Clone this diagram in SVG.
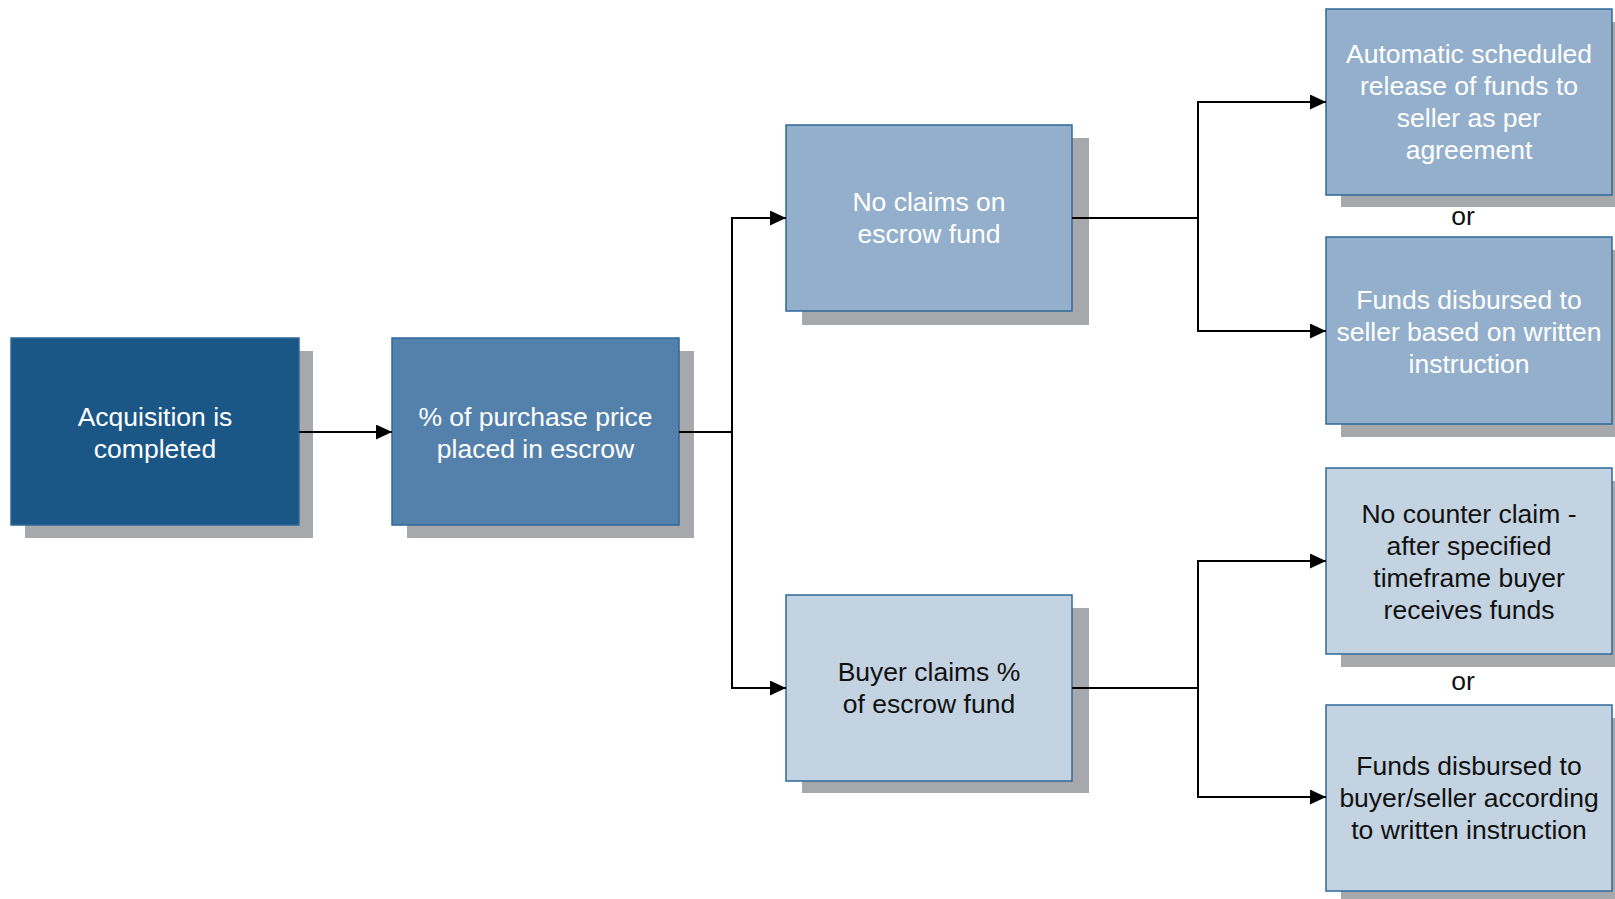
<svg xmlns="http://www.w3.org/2000/svg" width="1615" height="899" viewBox="0 0 1615 899">
<style>
.shadow{fill:#a7a8ab}
.box{stroke:#2f6899;stroke-width:1.5}
.b1{fill:#1a5787}
.b2{fill:#5481ab}
.b3{fill:#93afcb}
.b4{fill:#c3d3e1}
text{font-family:"Liberation Sans",Arial,sans-serif;font-size:26.5px;text-anchor:middle}
.w{fill:#ffffff}
.k{fill:#111111}
.conn{fill:none;stroke:#000;stroke-width:2}
</style>
<defs>
<marker id="arr" markerUnits="userSpaceOnUse" markerWidth="16" markerHeight="15" refX="16" refY="7.5" orient="auto">
<path d="M0,0 L16,7.5 L0,15 z" fill="#000"/>
</marker>
</defs>
<rect width="1615" height="899" fill="#ffffff"/>
<g id="n1">
<rect class="shadow" x="25" y="351" width="288" height="187"/>
<rect class="box b1" x="11" y="338" width="288" height="187"/>
<text class="w" x="155" y="426">Acquisition is</text>
<text class="w" x="155" y="458">completed</text>
</g>
<g id="n2">
<rect class="shadow" x="407" y="351" width="287" height="187"/>
<rect class="box b2" x="392" y="338" width="287" height="187"/>
<text class="w" x="535.5" y="426">% of purchase price</text>
<text class="w" x="535.5" y="458">placed in escrow</text>
</g>
<g id="n3">
<rect class="shadow" x="802" y="138" width="287" height="187"/>
<rect class="box b3" x="786" y="125" width="286" height="186"/>
<text class="w" x="929" y="211">No claims on</text>
<text class="w" x="929" y="243">escrow fund</text>
</g>
<g id="n4">
<rect class="shadow" x="802" y="608" width="287" height="185"/>
<rect class="box b4" x="786" y="595" width="286" height="186"/>
<text class="k" x="929" y="681">Buyer claims %</text>
<text class="k" x="929" y="713">of escrow fund</text>
</g>
<g id="n5">
<rect class="shadow" x="1341" y="22" width="286" height="185"/>
<rect class="box b3" x="1326" y="9" width="286" height="186"/>
<text class="w" x="1469" y="63">Automatic scheduled</text>
<text class="w" x="1469" y="95">release of funds to</text>
<text class="w" x="1469" y="127">seller as per</text>
<text class="w" x="1469" y="159">agreement</text>
</g>
<g id="or1">
<text class="k" x="1463" y="225">or</text>
</g>
<g id="n6">
<rect class="shadow" x="1341" y="250" width="286" height="187"/>
<rect class="box b3" x="1326" y="237" width="286" height="187"/>
<text class="w" x="1469" y="309">Funds disbursed to</text>
<text class="w" x="1469" y="341">seller based on written</text>
<text class="w" x="1469" y="373">instruction</text>
</g>
<g id="n7">
<rect class="shadow" x="1341" y="481" width="286" height="186"/>
<rect class="box b4" x="1326" y="468" width="286" height="186"/>
<text class="k" x="1469" y="523">No counter claim -</text>
<text class="k" x="1469" y="555">after specified</text>
<text class="k" x="1469" y="587">timeframe buyer</text>
<text class="k" x="1469" y="619">receives funds</text>
</g>
<g id="or2">
<text class="k" x="1463" y="690">or</text>
</g>
<g id="n8">
<rect class="shadow" x="1341" y="718" width="286" height="187"/>
<rect class="box b4" x="1326" y="705" width="286" height="186"/>
<text class="k" x="1469" y="775">Funds disbursed to</text>
<text class="k" x="1469" y="807">buyer/seller according</text>
<text class="k" x="1469" y="839">to written instruction</text>
</g>
<g id="connectors">
<path class="conn" d="M299,432 H392" marker-end="url(#arr)"/>
<path class="conn" d="M679,432 H732 V218 H786" marker-end="url(#arr)"/>
<path class="conn" d="M732,432 V688 H786" marker-end="url(#arr)"/>
<path class="conn" d="M1072,218 H1198 V102 H1326" marker-end="url(#arr)"/>
<path class="conn" d="M1198,218 V331 H1326" marker-end="url(#arr)"/>
<path class="conn" d="M1072,688 H1198 V561 H1326" marker-end="url(#arr)"/>
<path class="conn" d="M1198,688 V797 H1326" marker-end="url(#arr)"/>
</g>
</svg>
